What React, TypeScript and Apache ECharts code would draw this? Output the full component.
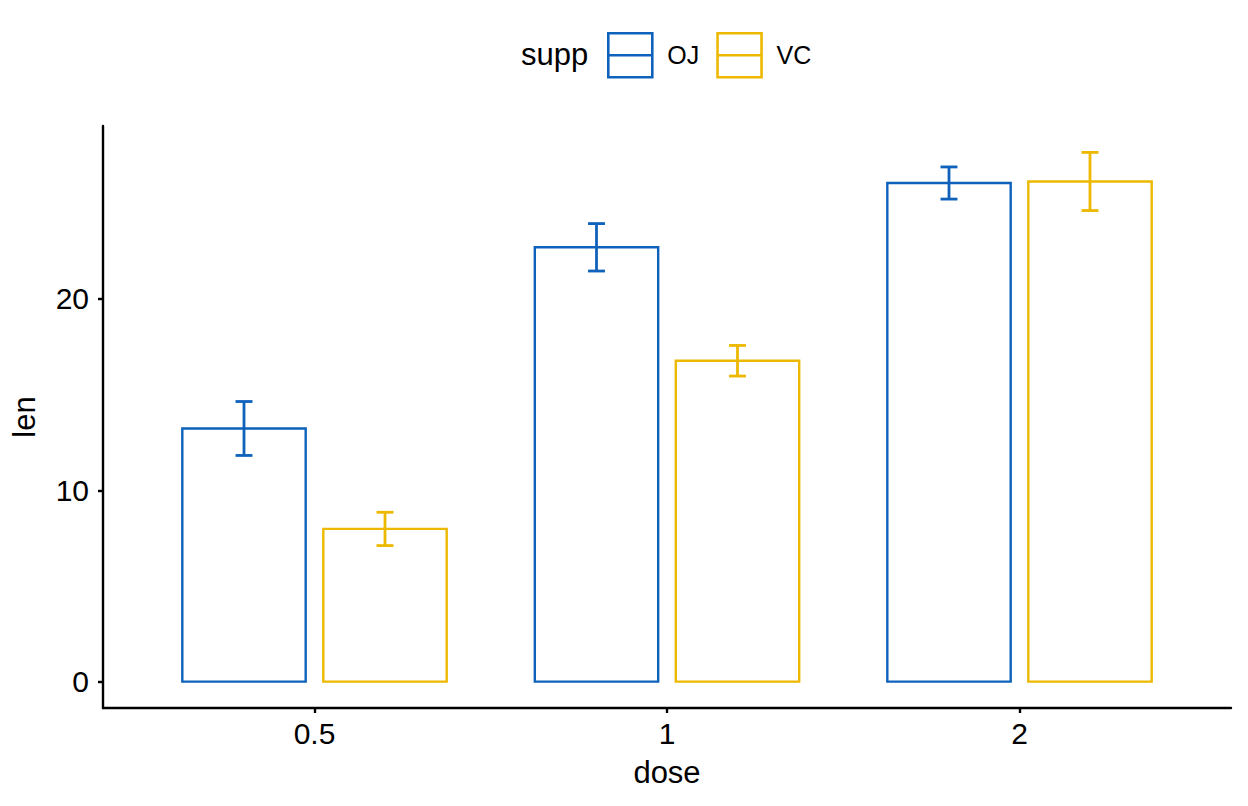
import React, { useEffect, useRef } from "react";
import * as echarts from "echarts";

const doseLabels = ["0.5", "1", "2"];
const ojMeans = [13.23, 22.7, 26.06];
const ojSE = [1.41, 1.24, 0.84];
const vcMeans = [7.98, 16.77, 26.14];
const vcSE = [0.87, 0.8, 1.52];
const yTicks = [0, 10, 20];

const OJ_COLOR = "#0F62BC";
const VC_COLOR = "#EDB800";
const FONT = "Arial";

function makeRender(offset: number, color: string) {
  return (params: any, api: any) => {
    const x = api.value(0) as number;
    const mean = api.value(1) as number;
    const se = api.value(2) as number;
    const cx = x + offset;
    const tl = api.coord([cx - 0.175, mean]);
    const br = api.coord([cx + 0.175, 0]);
    const c = api.coord([cx, mean]);
    const hi = api.coord([cx, mean + se]);
    const lo = api.coord([cx, mean - se]);
    const capHalf = api.size([0.024, 0])[0];
    return {
      type: "group",
      children: [
        {
          type: "rect",
          shape: { x: tl[0], y: tl[1], width: br[0] - tl[0], height: br[1] - tl[1] },
          style: { fill: "#fff", stroke: color, lineWidth: 2.4 },
        },
        {
          type: "line",
          shape: { x1: c[0], y1: hi[1], x2: c[0], y2: lo[1] },
          style: { stroke: color, lineWidth: 2.8 },
        },
        {
          type: "line",
          shape: { x1: c[0] - capHalf, y1: hi[1], x2: c[0] + capHalf, y2: hi[1] },
          style: { stroke: color, lineWidth: 2.8 },
        },
        {
          type: "line",
          shape: { x1: c[0] - capHalf, y1: lo[1], x2: c[0] + capHalf, y2: lo[1] },
          style: { stroke: color, lineWidth: 2.8 },
        },
      ],
    };
  };
}

const legendIcon = "path://M0,0H44V44H0ZM0,22H44";

export default function App() {
  const ref = useRef<HTMLDivElement>(null);
  useEffect(() => {
    if (!ref.current) return;
    const chart = echarts.init(ref.current, undefined, { renderer: "svg" });
    const ojData = ojMeans.map((m, i) => [i, m, ojSE[i]]);
    const vcData = vcMeans.map((m, i) => [i, m, vcSE[i]]);
    chart.setOption({
      animation: false,
      backgroundColor: "#fff",
      textStyle: { fontFamily: FONT },
      title: {
        text: "supp",
        left: 521,
        top: 39,
        padding: 0,
        textStyle: { fontSize: 31, fontWeight: "normal", color: "#000", fontFamily: FONT },
      },
      legend: {
        left: 607,
        top: 32,
        padding: 0,
        itemWidth: 44,
        itemHeight: 44,
        itemGap: 17,
        textStyle: { fontSize: 25, color: "#000", fontFamily: FONT, padding: [0, 0, 0, 10] },
        data: [
          { name: "OJ", icon: legendIcon, itemStyle: { color: "transparent", borderColor: OJ_COLOR, borderWidth: 2.6 } },
          { name: "VC", icon: legendIcon, itemStyle: { color: "transparent", borderColor: VC_COLOR, borderWidth: 2.6 } },
        ],
      },
      grid: { left: 103, right: 17, top: 126, bottom: 98, containLabel: false },
      xAxis: {
        type: "value",
        min: -0.6,
        max: 2.6,
        name: "dose",
        nameLocation: "middle",
        nameGap: 49,
        nameTextStyle: { fontSize: 31, color: "#000", fontFamily: FONT },
        axisLine: { show: true, onZero: false, lineStyle: { color: "#000", width: 2.4 } },
        axisTick: { show: true, length: 5, lineStyle: { color: "#000", width: 2.4 }, customValues: [0, 1, 2] },
        axisLabel: {
          fontSize: 30,
          color: "#000",
          margin: 10,
          fontFamily: FONT,
          customValues: [0, 1, 2],
          formatter: (v: number) => doseLabels[Math.round(v)] ?? "",
        },
        splitLine: { show: false },
      },
      yAxis: {
        type: "value",
        min: -1.38,
        max: 29.04,
        name: "len",
        nameLocation: "middle",
        nameGap: 63,
        nameRotate: 90,
        nameTextStyle: { fontSize: 31, color: "#000", fontFamily: FONT },
        axisLine: { show: true, onZero: false, lineStyle: { color: "#000", width: 2.4 } },
        axisTick: { show: true, length: 5, lineStyle: { color: "#000", width: 2.4 }, customValues: yTicks },
        axisLabel: { fontSize: 30, color: "#000", margin: 14, fontFamily: FONT, customValues: yTicks },
        splitLine: { show: false },
      },
      series: [
        {
          name: "OJ",
          type: "custom",
          renderItem: makeRender(-0.2, OJ_COLOR),
          encode: { x: 0, y: 1 },
          itemStyle: { color: OJ_COLOR },
          data: ojData,
        },
        {
          name: "VC",
          type: "custom",
          renderItem: makeRender(0.2, VC_COLOR),
          encode: { x: 0, y: 1 },
          itemStyle: { color: VC_COLOR },
          data: vcData,
        },
      ],
    });
    return () => chart.dispose();
  }, []);
  return <div ref={ref} style={{ width: 1248, height: 806, position: "absolute", left: 0, top: 0 }} />;
}
